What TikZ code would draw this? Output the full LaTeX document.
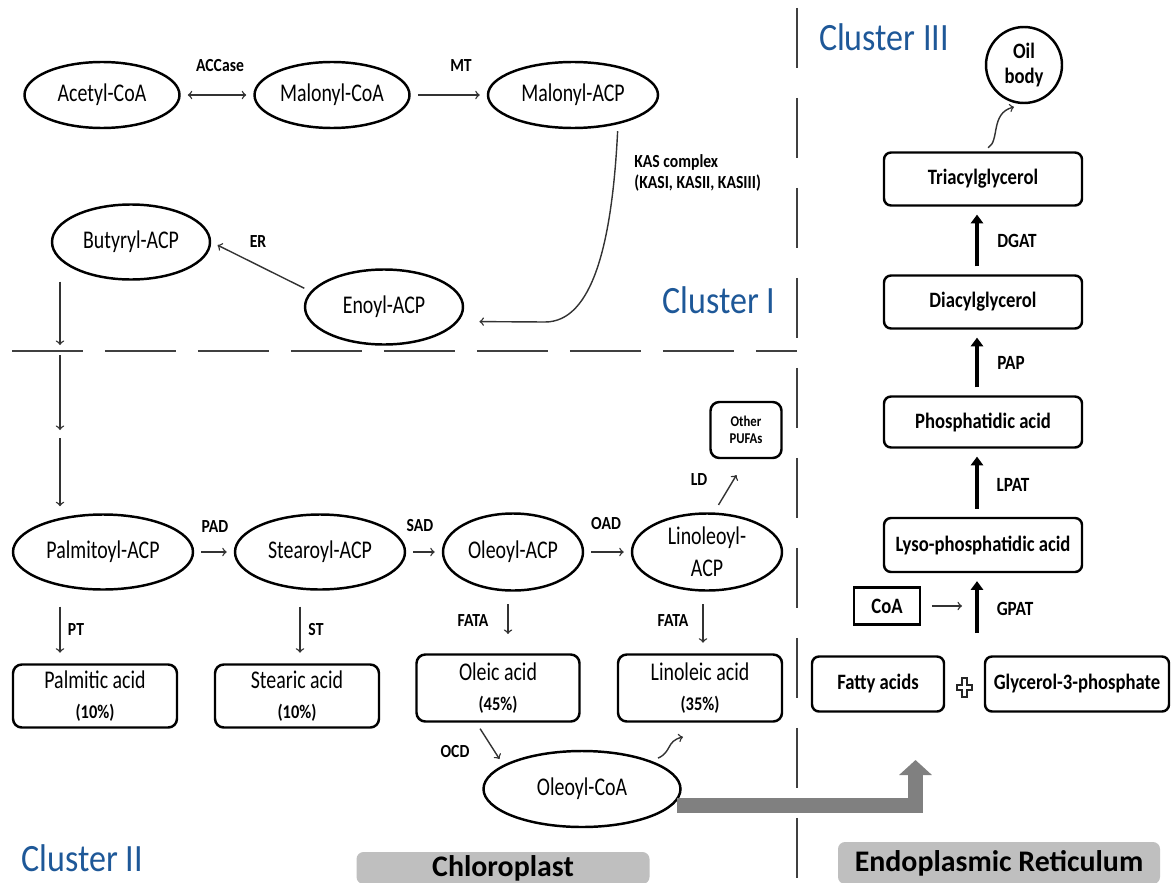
\documentclass[tikz,border=0pt]{standalone}
\usepackage{fontspec}
\setmainfont{Carlito}
\newfontfamily\namefont{Carlito}[FakeStretch=0.78]
\newfontfamily\enzfont{Carlito}[FakeStretch=0.85]
\newfontfamily\clusterfont{Carlito}[FakeStretch=0.88]
\usetikzlibrary{shapes.geometric, arrows.meta, positioning}
\definecolor{clusterblue}{RGB}{30,88,152}
\definecolor{blockgray}{RGB}{128,128,128}
\definecolor{regiongray}{RGB}{191,191,191}
\tikzset{
  ell/.style 2 args={ellipse, draw, line width=1.4pt, inner sep=0pt,
    minimum width=#1*0.02cm, minimum height=#2*0.02cm, align=center,
    font=\namefont\fontsize{14.5}{16}\selectfont},
  acid/.style 2 args={rectangle, rounded corners=5pt, draw, line width=1.4pt,
    minimum width=#1*0.02cm, minimum height=#2*0.02cm, align=center,
    font=\namefont\fontsize{14.5}{16}\selectfont},
  lipid/.style 2 args={rectangle, rounded corners=4pt, draw, line width=1.4pt,
    minimum width=#1*0.02cm, minimum height=#2*0.02cm,
    font=\enzfont\bfseries\fontsize{12.5}{14}\selectfont},
  enz/.style={inner sep=0pt, font=\enzfont\bfseries\fontsize{10.5}{12}\selectfont},
  cluster/.style={inner sep=0pt, text=clusterblue,
    font=\clusterfont\fontsize{22}{24}\selectfont},
  region/.style={fill=regiongray, rounded corners=4pt, inner sep=0pt,
    font=\bfseries\fontsize{17}{19}\selectfont},
  arr/.style={->, line width=0.8pt, black!80, shorten >=4pt, shorten <=4pt},
  bigarr/.style={line width=2.8pt, -{Triangle[width=7pt,length=5pt]},
    shorten >=4.5pt, shorten <=4.5pt},
  divider/.style={line width=0.9pt, black!75}
}
\newcommand\acidpct[1]{{\enzfont\bfseries\fontsize{11}{12}\selectfont(#1\%)}}

\begin{document}
\begin{tikzpicture}[x=0.02cm, y=-0.02cm, >=to]
  \useasboundingbox (0,0) rectangle (1172,882);

  % borders between the clusters
  \draw[divider, dash pattern=on 1.42cm off 0.44cm] (12,351) -- (797,351);
  \draw[divider, dash pattern=on 1.2cm off 0.6cm] (797,8) -- (797,882);

  \node[cluster] (c1) at (719,300) {Cluster I};
  \node[cluster] (c2) at (82,858) {Cluster II};
  \node[cluster] (c3) at (884,37) {Cluster III};

  \node[region, minimum width=293*0.02cm, minimum height=32*0.02cm] (chl) at (503,868) {Chloroplast};
  \node[region, minimum width=322*0.02cm, minimum height=42*0.02cm] (endo) at (999,863) {Endoplasmic Reticulum};

  % Cluster I
  \node[ell={155}{66}] (acoa) at (102,95) {Acetyl-CoA};
  \node[ell={155}{66}] (mcoa) at (332,95) {Malonyl-CoA};
  \node[ell={170}{66}] (macp) at (573,95) {Malonyl-ACP};
  \node[ell={158}{75}] (but) at (131,242) {Butyryl-ACP};
  \node[ell={158}{75}] (eno) at (384,307) {Enoyl-ACP};
  \node[enz] (accase) at (220,66) {ACCase};
  \node[enz] (mt) at (461,66) {MT};
  \node[enz] (er) at (258,242) {ER};
  \node[enz, align=left, anchor=west] (kas) at (634,173) {KAS complex\\(KASI, KASII, KASIII)};

  \draw[arr, <->] (acoa) -- (mcoa);
  \draw[arr] (mcoa) -- (macp);
  \draw[arr, shorten >=0.42cm] (macp.-33) .. controls (612,245) and (592,322) .. (545,322) -- (eno.-11);
  \draw[arr] (eno.168) -- (but.east);

  % Cluster II
  \node[ell={180}{75}] (pal) at (103,552) {Palmitoyl-ACP};
  \node[ell={170}{75}] (ste) at (320,552) {Stearoyl-ACP};
  \node[ell={140}{77}] (ole) at (513,552) {Oleoyl-ACP};
  \node[ell={150}{77}] (lin) at (707,552) {Linoleoyl-\\[2pt]ACP};
  \node[ell={197}{76}] (ocoa) at (582,789) {Oleoyl-CoA};
  \node[lipid={71}{56}, rounded corners=5pt, align=center,
    font=\enzfont\bfseries\fontsize{8.5}{10}\selectfont] (pufa) at (746,430) {Other\\PUFAs};

  \node[acid={164}{63}] (pac) at (95,696) {Palmitic acid\\[1pt]\acidpct{10}};
  \node[acid={164}{63}] (sac) at (297,696) {Stearic acid\\[1pt]\acidpct{10}};
  \node[acid={163}{67}] (oac) at (498,688) {Oleic acid\\[1pt]\acidpct{45}};
  \node[acid={164}{67}] (lac) at (700,688) {Linoleic acid\\[1pt]\acidpct{35}};

  \node[enz] (pad) at (215,527) {PAD};
  \node[enz] (sad) at (420,526) {SAD};
  \node[enz] (oad) at (606,524) {OAD};
  \node[enz] (ld) at (699,480) {LD};
  \node[enz] (pt) at (76,630) {PT};
  \node[enz] (st) at (316,630) {ST};
  \node[enz] (fata1) at (473,621) {FATA};
  \node[enz] (fata2) at (673,621) {FATA};
  \node[enz] (ocd) at (455,752) {OCD};

  \coordinate (v1) at (60,345);
  \coordinate (v2) at (60,355);
  \coordinate (v3) at (60,430);
  \coordinate (v4) at (60,438);
  \draw[arr, shorten <=7pt, shorten >=0pt] (but.south west -| v1) -- (v1);
  \draw[arr, shorten <=0pt, shorten >=0pt] (v2) -- (v3);
  \draw[arr, shorten <=0pt] (v4) -- (v4 |- pal.north);

  \foreach \from/\to in {pal/ste,ste/ole,ole/lin}
    \draw[arr] (\from) -- (\to);

  \draw[arr, shorten <=9pt, shorten >=6pt] (pal.south -| 60,0) -- (pac.north -| 60,0);
  \draw[arr, shorten <=9pt, shorten >=6pt] (ste.south -| 300,0) -- (sac.north -| 300,0);
  \draw[arr, shorten <=7pt, shorten >=11pt] (ole.south -| 508,0) -- (oac.north -| 508,0);
  \draw[arr, shorten <=7pt, shorten >=6pt] (lin.south -| 703,0) -- (lac.north -| 703,0);
  \draw[arr, shorten <=5pt, shorten >=0.37cm] (lin.80) -- (pufa.south);
  \draw[arr] (oac.-122) -- (ocoa.163);

  \coordinate (lt) at (683,737);
  \draw[arr, shorten <=4pt, shorten >=0pt] (ocoa.22) .. controls (672,752) and (666,741) .. (lt);

  % Cluster III
  \node[circle, draw, line width=1.4pt, minimum size=76*0.02cm, inner sep=0pt, align=center,
    font=\enzfont\bfseries\fontsize{12.5}{14}\selectfont] (oil) at (1024,65) {Oil\\body};
  \node[lipid={198}{53}] (tag) at (983,179) {Triacylglycerol};
  \node[lipid={198}{53}] (dag) at (983,302) {Diacylglycerol};
  \node[lipid={198}{51}] (pa) at (983,422) {Phosphatidic acid};
  \node[lipid={198}{54}] (lpa) at (983,545) {Lyso-phosphatidic acid};
  \node[lipid={66}{37}, rounded corners=0pt] (coa) at (887,606) {CoA};
  \node[lipid={132}{55}] (fa) at (878,684) {Fatty acids};
  \node[lipid={184}{55}] (g3p) at (1077,684) {Glycerol-3-phosphate};

  \node[enz, font=\enzfont\bfseries\fontsize{11.5}{12}\selectfont] (dgat) at (1017,241) {DGAT};
  \node[enz, font=\enzfont\bfseries\fontsize{11.5}{12}\selectfont] (pap) at (1011,363) {PAP};
  \node[enz, font=\enzfont\bfseries\fontsize{11.5}{12}\selectfont] (lpat) at (1013,485) {LPAT};
  \node[enz, font=\enzfont\bfseries\fontsize{11.5}{12}\selectfont] (gpat) at (1015,609) {GPAT};

  \coordinate (ax) at (977,0);
  \foreach \from/\to in {dag/tag,pa/dag,lpa/pa}
    \draw[bigarr] (\from.north -| ax) -- (\to.south -| ax);
  \coordinate (gs) at (977,633);
  \draw[bigarr, shorten <=0pt] (gs) -- (lpa.south -| ax);

  \coordinate (ce) at (962,606);
  \draw[arr, shorten <=6pt, shorten >=0pt] (coa.east) -- (ce);

  \coordinate (ot) at (1014,107);
  \draw[arr, shorten <=4pt, shorten >=0pt] (tag.north -| 982,0) .. controls (1000,141) and (990,113) .. (ot);

  % plus sign between the substrates
  \draw[line width=0.9pt, black!85] (962,678) -- (967,678) -- (967,685) -- (972,685) -- (972,690)
    -- (967,690) -- (967,697) -- (962,697) -- (962,690) -- (957,690) -- (957,685) -- (962,685) -- cycle;

  % transfer from chloroplast to ER
  \draw[blockgray, line width=0.3cm, line join=miter, -{Triangle[width=0.64cm,length=0.3cm]}]
    (677,805.5) -| (915.5,760);
\end{tikzpicture}
\end{document}
